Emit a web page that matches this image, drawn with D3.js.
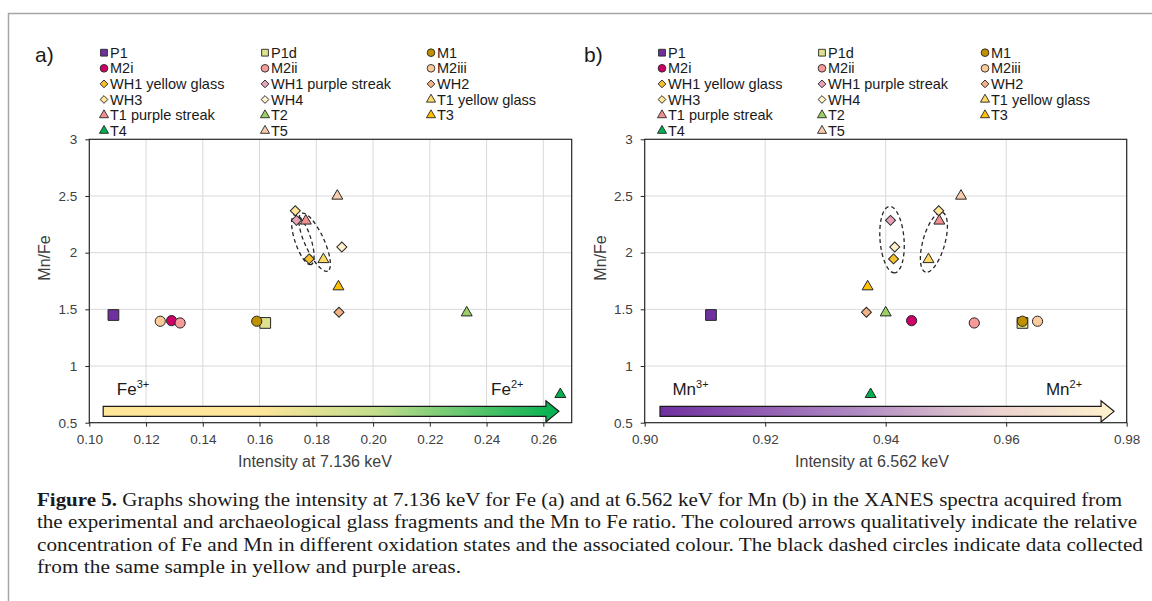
<html>
<head>
<meta charset="utf-8">
<title>Fe and Mn XANES intensity vs Mn/Fe</title>
<script src="https://d3js.org/d3.v7.min.js"></script>
<style>
  body { margin: 0; background: #fff; }
</style>
</head>
<body>
<svg id="fig" width="1152" height="601" font-family="Arial, 'Liberation Sans', sans-serif"></svg>
<script>
// samples, in legend / drawing order
const names = ["P1", "P1d", "M1", "M2i", "M2ii", "M2iii",
  "WH1 yellow glass", "WH1 purple streak", "WH2", "WH3", "WH4",
  "T1 yellow glass", "T1 purple streak", "T2", "T3", "T4", "T5"];
const shapes = ["square", "square", "circle", "circle", "circle", "circle",
  "diamond", "diamond", "diamond", "diamond", "diamond",
  "triangle", "triangle", "triangle", "triangle", "triangle", "triangle"];
const colors = ["#7030a0", "#dfe18c", "#bf9000", "#cc0066", "#f79a9a", "#fccb9c",
  "#f7c02e", "#e8a3b8", "#f4b183", "#ffe699", "#fff2cc",
  "#ffd966", "#f09090", "#9bd064", "#ffc000", "#00b050", "#f8cbad"];

// intensity at 7.136 keV (Fe) and 6.562 keV (Mn), Mn/Fe ratio
const feIntensity = [0.1085, 0.162, 0.159, 0.129, 0.132, 0.125,
  0.1775, 0.173, 0.188, 0.1726, 0.189,
  0.1825, 0.1763, 0.233, 0.1878, 0.266, 0.1874];
const mnIntensity = [0.911, 0.9627, 0.9627, 0.9443, 0.9547, 0.9652,
  0.9413, 0.9408, 0.9368, 0.9488, 0.9415,
  0.9471, 0.9489, 0.940, 0.937, 0.9375, 0.9525];
const mnFe = [1.45, 1.38, 1.395, 1.40, 1.38, 1.395,
  1.945, 2.285, 1.475, 2.37, 2.05,
  1.94, 2.28, 1.47, 1.70, 0.75, 2.50];

// same sample, yellow and purple areas
const pairs = [["WH1 purple streak", "WH1 yellow glass"], ["T1 purple streak", "T1 yellow glass"]];

const yTicks = [0.5, 1, 1.5, 2, 2.5, 3];
const xTicksA = [0.10, 0.12, 0.14, 0.16, 0.18, 0.20, 0.22, 0.24, 0.26];
const xTicksB = [0.90, 0.92, 0.94, 0.96, 0.98];

const caption = [
  "Graphs showing the intensity at 7.136 keV for Fe (a) and at 6.562 keV for Mn (b) in the XANES spectra acquired from",
  "the experimental and archaeological glass fragments and the Mn to Fe ratio. The coloured arrows qualitatively indicate the relative",
  "concentration of Fe and Mn in different oxidation states and the associated colour. The black dashed circles indicate data collected",
  "from the same sample in yellow and purple areas."
];

const svg = d3.select("#fig");
svg.append("rect").attr("width", 1152).attr("height", 601).attr("fill", "#fff");

// outer frame (top and left)
svg.append("path").attr("d", "M8.5,601V13.5H1152")
  .attr("fill", "none").attr("stroke", "#a6a6a6").attr("stroke-width", 1.5);

const symSize = {square: 115, circle: 82, diamond: 50, triangle: 52};
const legSize = {square: 46, circle: 46, diamond: 30, triangle: 36};

function marker(sel, shape, size) {
  const t = shape === "circle" ? d3.symbolCircle : shape === "triangle" ? d3.symbolTriangle : d3.symbolSquare;
  sel.append("path")
    .attr("d", d3.symbol(t, size)())
    .attr("transform", shape === "diamond" ? "rotate(45)" : null);
}

function panel(cfg) {
  const x = d3.scaleLinear().domain(cfg.xDomain).range([cfg.left, cfg.right]);
  const y = d3.scaleLinear().domain([0.5, 3]).range([422.7, 139.3]);
  const g = svg.append("g");

  // grid
  g.selectAll(".gx").data(cfg.xTicks.slice(1)).join("line")
    .attr("x1", d => x(d)).attr("x2", d => x(d))
    .attr("y1", y(0.5)).attr("y2", y(3))
    .attr("stroke", "#d9d9d9");
  g.selectAll(".gy").data(yTicks.slice(1, -1)).join("line")
    .attr("x1", x.range()[0]).attr("x2", x.range()[1])
    .attr("y1", d => y(d)).attr("y2", d => y(d))
    .attr("stroke", "#d9d9d9");

  // arrow
  const gid = "grad" + cfg.label;
  const grad = svg.append("defs").append("linearGradient").attr("id", gid);
  cfg.arrowStops.forEach(s => grad.append("stop").attr("offset", s[0]).attr("stop-color", s[1]));
  const ax0 = x(cfg.arrow[0]), ax1 = x(cfg.arrow[1]), ay = y(0.6);
  const hl = 13, bh = 5, hh = 10.7;
  g.append("path")
    .attr("d", `M${ax0},${ay - bh}H${ax1 - hl}V${ay - hh}L${ax1},${ay}L${ax1 - hl},${ay + hh}V${ay + bh}H${ax0}Z`)
    .attr("fill", `url(#${gid})`).attr("stroke", "#1a1a1a").attr("stroke-width", 1.2);

  cfg.arrowText.forEach(a => {
    const t = g.append("text").attr("x", x(a.x)).attr("y", y(0.745))
      .attr("font-size", 17).attr("fill", "#1a1a1a");
    t.append("tspan").text(a.base);
    t.append("tspan").attr("dy", -7).attr("font-size", 11).text(a.sup);
  });

  // dashed ellipses
  cfg.ellipses.forEach((e, k) => {
    const i = names.indexOf(pairs[k][0]), j = names.indexOf(pairs[k][1]);
    const p1 = [x(cfg.xVals[i]), y(mnFe[i])], p2 = [x(cfg.xVals[j]), y(mnFe[j])];
    const dx = p2[0] - p1[0], dy = p2[1] - p1[1];
    const len = Math.hypot(dx, dy) / 2 + e.pad;
    const ang = Math.atan2(dy, dx) * 180 / Math.PI;
    g.append("ellipse")
      .attr("transform", `translate(${(p1[0] + p2[0]) / 2},${(p1[1] + p2[1]) / 2 + e.shift}) rotate(${ang})`)
      .attr("rx", len).attr("ry", e.minor)
      .attr("fill", "none").attr("stroke", "#262626").attr("stroke-width", 1.3)
      .attr("stroke-dasharray", "4,3");
  });

  // points
  names.forEach((n, i) => {
    const m = g.append("g")
      .attr("transform", `translate(${x(cfg.xVals[i])},${y(mnFe[i])})`)
      .attr("fill", colors[i]).attr("stroke", "#262626").attr("stroke-width", 1);
    marker(m, shapes[i], symSize[shapes[i]]);
  });

  // frame
  g.append("rect")
    .attr("x", x.range()[0]).attr("y", y(3))
    .attr("width", x.range()[1] - x.range()[0]).attr("height", y(0.5) - y(3))
    .attr("fill", "none").attr("stroke", "#262626").attr("stroke-width", 1.2);

  // axes
  const xa = g.append("g").attr("transform", `translate(0,${y(0.5)})`)
    .call(d3.axisBottom(x).tickValues(cfg.xTicks).tickSize(4).tickPadding(8).tickFormat(d3.format(".2f")));
  const ya = g.append("g").attr("transform", `translate(${x.range()[0]},0)`)
    .call(d3.axisLeft(y).tickValues(yTicks).tickSize(4).tickPadding(8).tickFormat(d => String(d)));
  [xa, ya].forEach(a => {
    a.select(".domain").remove();
    a.selectAll("line").attr("stroke", "#262626");
    a.selectAll("text").attr("font-size", 13.5).attr("fill", "#404040")
      .attr("font-family", "Arial, 'Liberation Sans', sans-serif");
  });

  g.append("text").attr("x", cfg.xTitleX).attr("y", 467)
    .attr("text-anchor", "middle").attr("font-size", 16).attr("fill", "#404040")
    .text(cfg.xTitle);
  g.append("text").attr("transform", `translate(${cfg.yTitleX},258) rotate(-90)`)
    .attr("text-anchor", "middle").attr("font-size", 16).attr("fill", "#404040")
    .text("Mn/Fe");

  // panel label
  g.append("text").attr("x", cfg.labelX).attr("y", 61.5)
    .attr("font-size", 21).attr("fill", "#1a1a1a").text(cfg.label + ")");

  // legend
  names.forEach((n, i) => {
    const lx = cfg.legendX[i % 3], ly = 52.7 + 15.6 * Math.floor(i / 3);
    const lg = g.append("g").attr("transform", `translate(${lx},${ly})`);
    const m = lg.append("g").attr("fill", colors[i]).attr("stroke", "#262626").attr("stroke-width", 0.9);
    marker(m, shapes[i], legSize[shapes[i]]);
    lg.append("text").attr("x", 6).attr("y", 5).attr("font-size", 14.5).attr("fill", "#1a1a1a").text(n);
  });
}

panel({
  label: "a", labelX: 35,
  xDomain: [0.10, 0.27], left: 89.3, right: 571.7, xTicks: xTicksA, xVals: feIntensity,
  xTitle: "Intensity at 7.136 keV", xTitleX: 315, yTitleX: 50,
  legendX: [104, 265, 431],
  arrow: [0.1049, 0.2655],
  arrowStops: [[0, "#ffe699"], [0.35, "#fde59a"], [0.6, "#c2dd8c"], [1, "#00b050"]],
  arrowText: [{x: 0.1097, base: "Fe", sup: "3+"}, {x: 0.2416, base: "Fe", sup: "2+"}],
  ellipses: [{pad: 6, minor: 8, shift: 0}, {pad: 10.5, minor: 9.6, shift: 2}]
});

panel({
  label: "b", labelX: 584,
  xDomain: [0.90, 0.98], left: 644.7, right: 1126.7, xTicks: xTicksB, xVals: mnIntensity,
  xTitle: "Intensity at 6.562 keV", xTitleX: 872, yTitleX: 606,
  legendX: [662, 822, 985],
  arrow: [0.90254, 0.9779],
  arrowStops: [[0, "#7030a0"], [0.45, "#b28dc4"], [0.75, "#ecd3cf"], [1, "#fff2cc"]],
  arrowText: [{x: 0.9046, base: "Mn", sup: "3+"}, {x: 0.9666, base: "Mn", sup: "2+"}],
  ellipses: [{pad: 14, minor: 12, shift: 0}, {pad: 11, minor: 11, shift: 2}]
});

// caption
const capEnds = [1122, 1137, 1143, 461];
caption.forEach((line, i) => {
  const t = svg.append("text").attr("x", 37).attr("y", 505.5 + 22.6 * i)
    .attr("font-family", "'Liberation Serif', 'DejaVu Serif', serif")
    .attr("font-size", 18).attr("fill", "#1a1a1a")
    .attr("textLength", capEnds[i] - 37).attr("lengthAdjust", "spacingAndGlyphs");
  if (i === 0) t.append("tspan").attr("font-weight", "bold").text("Figure 5. ");
  t.append("tspan").text(line);
});
</script>
</body>
</html>
